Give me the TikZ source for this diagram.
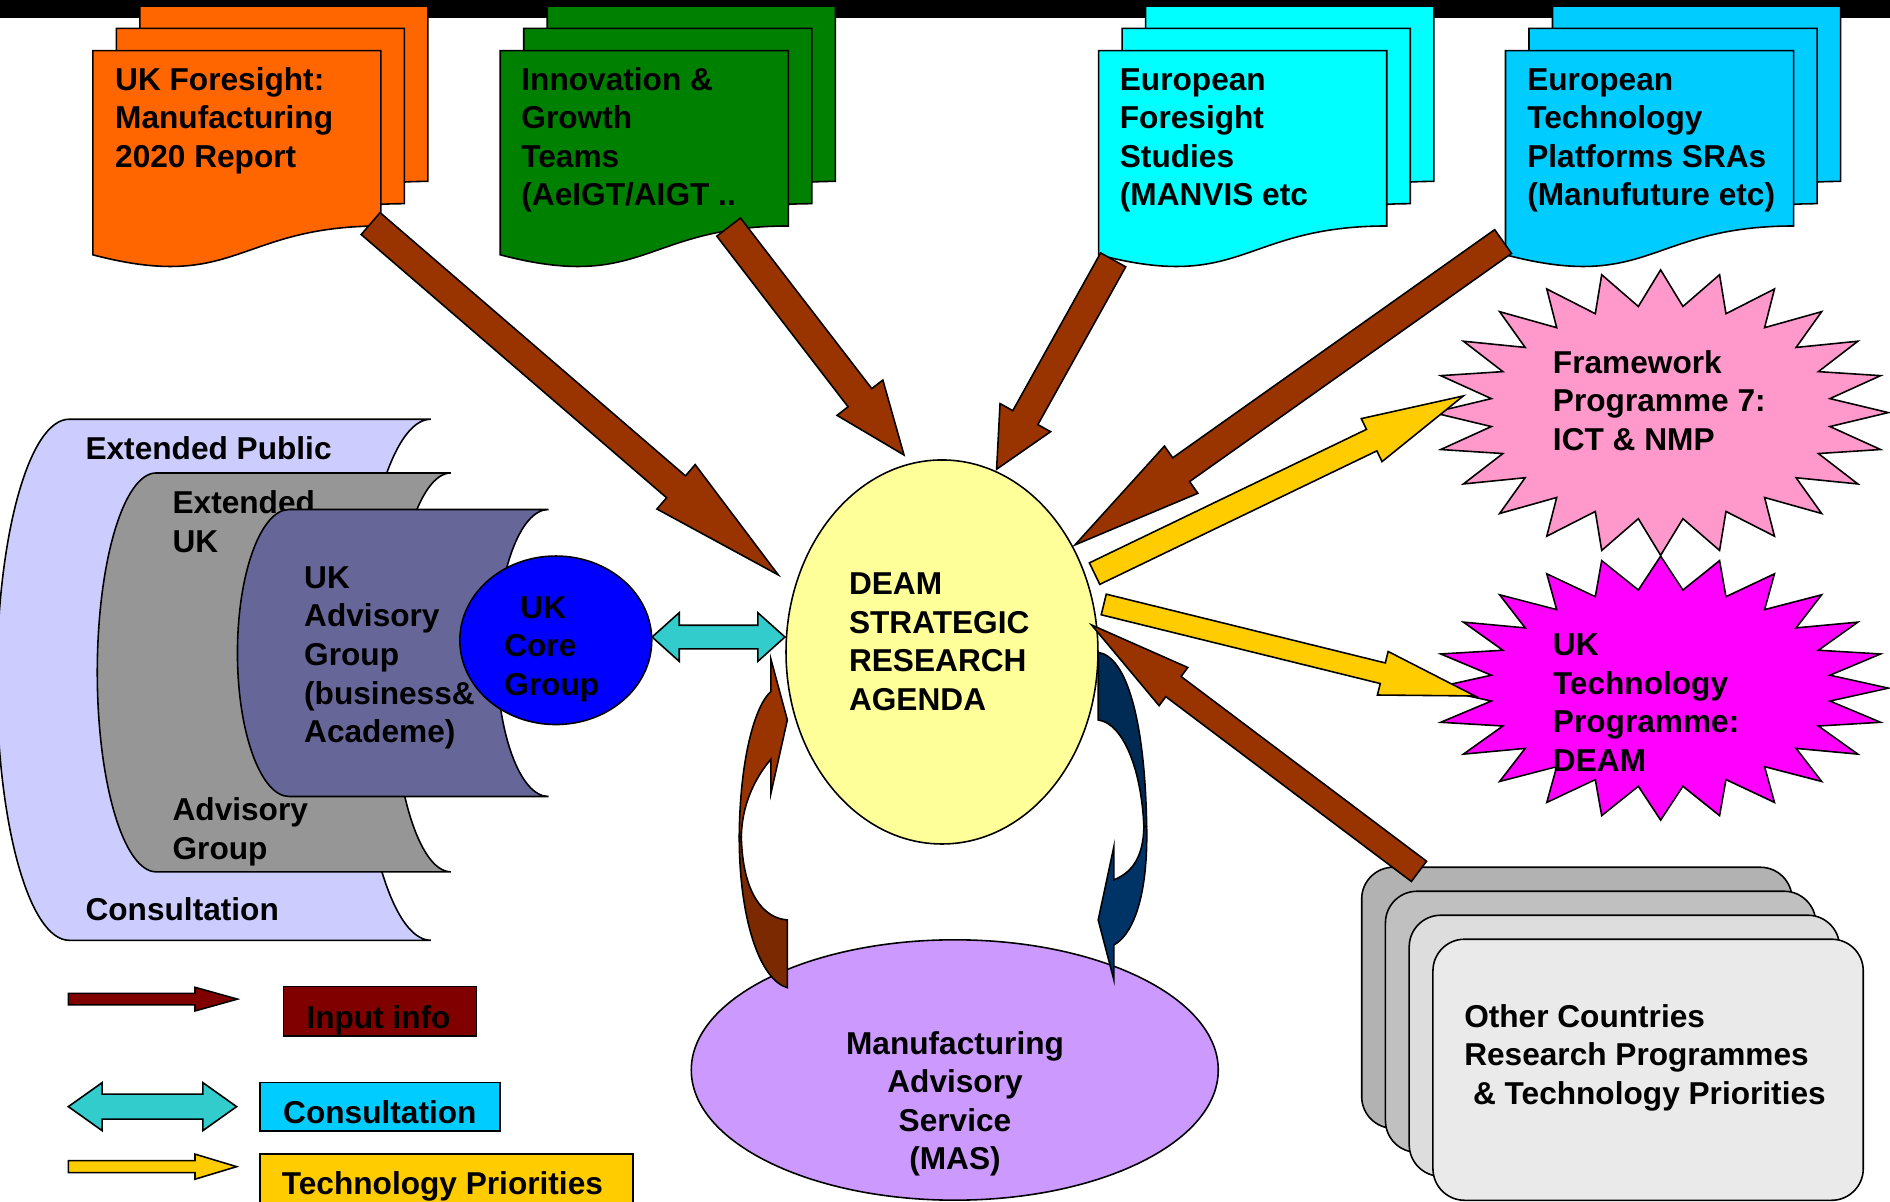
\documentclass[tikz,border=0pt]{standalone}
\usepackage{fontspec}
\setmainfont{Liberation Sans}
\usetikzlibrary{calc}
\definecolor{cOrange}{HTML}{FF6600}
\definecolor{cGreen}{HTML}{008000}
\definecolor{cCyan}{HTML}{00FFFF}
\definecolor{cSky}{HTML}{00CCFF}
\definecolor{cBrown}{HTML}{993300}
\definecolor{cBrownD}{HTML}{7A2900}
\definecolor{cNavy}{HTML}{003366}
\definecolor{cNavyD}{HTML}{002B55}
\definecolor{cLav}{HTML}{CCCCFF}
\definecolor{cGray}{HTML}{969696}
\definecolor{cSlate}{HTML}{666699}
\definecolor{cBlue}{HTML}{0000FF}
\definecolor{cPale}{HTML}{FFFF99}
\definecolor{cMauve}{HTML}{CC99FF}
\definecolor{cPink}{HTML}{FF99CC}
\definecolor{cMag}{HTML}{FF00FF}
\definecolor{cGold}{HTML}{FFCC00}
\definecolor{cTeal}{HTML}{33CCCC}
\definecolor{cMaroon}{HTML}{800000}
\definecolor{cGa}{HTML}{B2B2B2}
\definecolor{cGb}{HTML}{C0C0C0}
\definecolor{cGc}{HTML}{DDDDDD}
\definecolor{cGd}{HTML}{EAEAEA}
\tikzset{
  outline/.style={draw=black, line width=0.45pt, line join=miter},
  txt/.style={font=\bfseries\fontsize{9}{10.97}\selectfont, align=left, inner sep=0pt, anchor=base west},
  ctxt/.style={font=\bfseries\fontsize{9}{10.97}\selectfont, align=center, inner sep=0pt, anchor=base},
}
% document page (flowchart document shape), #1,#2 top-left, #3 fill
\newcommand{\docpage}[3]{%
  \begin{scope}[shift={(#1,#2)}]
    \draw[outline,fill=#3] (0,0) -- (239,0) -- (239,145.5)
      .. controls (119.5,145.5) and (119.5,200.9) .. (0,169.4) -- cycle;
  \end{scope}}
% stored-data shape: x0,y0,w,h,fill
\newcommand{\storeddata}[5]{%
  \pgfmathsetmacro\sdrx{#3/6}\pgfmathsetmacro\sdry{#4/2}%
  \draw[outline,fill=#5] ({#1+\sdrx},#2) -- ({#1+#3},#2)
    arc[start angle=-90, end angle=-270, x radius=\sdrx, y radius=\sdry]
    -- ({#1+\sdrx},{#2+#4})
    arc[start angle=90, end angle=270, x radius=\sdrx, y radius=\sdry] -- cycle;}
% block arrow: tail, tip, half shaft, half head, head length, fill
\newcommand{\blockarrow}[6]{%
  \pgfmathsetlengthmacro\bsw{#3*0.0120536cm}%
  \pgfmathsetlengthmacro\bhw{#4*0.0120536cm}%
  \pgfmathsetlengthmacro\bhl{#5*0.0120536cm}%
  \coordinate (bah) at ($(#2)!\bhl!(#1)$);%
  \draw[outline,fill=#6] ($(#1)!\bsw!90:(#2)$) -- ($(bah)!\bsw!90:(#2)$)
    -- ($(bah)!\bhw!90:(#2)$) -- (#2) -- ($(bah)!\bhw!-90:(#2)$)
    -- ($(bah)!\bsw!-90:(#2)$) -- ($(#1)!\bsw!-90:(#2)$) -- cycle;}
% double block arrow: end A, end B, half shaft, half head, head length, fill
\newcommand{\dblarrow}[6]{%
  \pgfmathsetlengthmacro\bsw{#3*0.0120536cm}%
  \pgfmathsetlengthmacro\bhw{#4*0.0120536cm}%
  \pgfmathsetlengthmacro\bhl{#5*0.0120536cm}%
  \coordinate (dah) at ($(#1)!\bhl!(#2)$);%
  \coordinate (dbh) at ($(#2)!\bhl!(#1)$);%
  \draw[outline,fill=#6] (#1) -- ($(dah)!\bhw!90:(#2)$) -- ($(dah)!\bsw!90:(#2)$)
    -- ($(dbh)!\bsw!-90:(#1)$) -- ($(dbh)!\bhw!-90:(#1)$) -- (#2)
    -- ($(dbh)!\bhw!90:(#1)$) -- ($(dbh)!\bsw!90:(#1)$)
    -- ($(dah)!\bsw!-90:(#2)$) -- ($(dah)!\bhw!-90:(#2)$) -- cycle;}
\begin{document}
\begin{tikzpicture}[x=0.0120536cm, y=-0.0120536cm]
\useasboundingbox (0,0) rectangle (1568,997.2);
\clip (0,0) rectangle (1568,997.2);
\fill[white] (0,0) rectangle (1568,997.2);
\fill[black] (0,0) rectangle (1568,15.2);

% ---- document stacks (text anchored at baseline of last line) ----
\docpage{116}{5}{cOrange}\docpage{96.5}{23.5}{cOrange}\docpage{77}{42}{cOrange}
\node[txt] (foresight) at (95,138.7) {UK Foresight:\\Manufacturing\\2020 Report};
\docpage{454}{5}{cGreen}\docpage{434.5}{23.5}{cGreen}\docpage{415}{42}{cGreen}
\node[txt] (innov) at (432,170.7) {Innovation \&\\Growth\\Teams\\(AeIGT/AIGT ..};
\docpage{950.5}{5}{cCyan}\docpage{931}{23.5}{cCyan}\docpage{911.5}{42}{cCyan}
\node[txt] (eufore) at (928.5,170.7) {European\\Foresight\\Studies\\(MANVIS etc};
\docpage{1288}{5}{cSky}\docpage{1268.5}{23.5}{cSky}\docpage{1249}{42}{cSky}
\node[txt] (eutech) at (1266.5,170.7) {European\\Technology\\Platforms SRAs\\(Manufuture etc)};

% ---- consultation shapes ----
\storeddata{-2.6}{347.8}{360}{432.3}{cLav}
\node[txt] (extpub) at (70.4,381.3) {Extended Public};
\node[txt] (consul) at (70.4,764) {Consultation};
\storeddata{80.7}{392.4}{293.4}{330.9}{cGray}
\node[txt] (extuk) at (142.6,458) {Extended\\UK};
\node[txt] (advgrp) at (142.6,713.1) {Advisory\\Group};
\storeddata{197}{422.7}{258}{238.1}{cSlate}
\node[txt] (ukadv) at (251.8,616.1) {UK\\Advisory\\Group\\(business\&\\Academe)};
\draw[outline,fill=cBlue] (461.1,531.2) ellipse [x radius=79.6, y radius=69.9];
\node[txt] (core) at (417.8,576.9) {\hspace*{4.6pt}UK\\Core\\Group};

% ---- stars ----
\draw[outline,fill=cPink] plot[variable=\k, samples at={0,...,47}]
  ({1377.7+188.9*(1-0.25*mod(\k,2))*cos(-90+7.5*\k)},
   {342.3+118.4*(1-0.25*mod(\k,2))*sin(-90+7.5*\k)}) -- cycle;
\node[txt] (fp7) at (1287.8,373.6) {Framework\\Programme 7:\\ICT \& NMP};
\draw[outline,fill=cMag] plot[variable=\k, samples at={0,...,47}]
  ({1377.7+188.9*(1-0.25*mod(\k,2))*cos(-90+7.5*\k)},
   {570.9+109.5*(1-0.25*mod(\k,2))*sin(-90+7.5*\k)}) -- cycle;
\node[txt] (uktp) at (1287.8,640) {UK\\Technology\\Programme:\\DEAM};

% ---- other countries stack ----
\foreach \i/\c in {0/cGa,1/cGb,2/cGc,3/cGd}{
  \draw[outline,fill=\c,rounded corners=9pt] ({1129.7+19.7*\i},{719.5+19.9*\i}) rectangle ++(357,216.6);
}
\node[txt] (other) at (1214.2,916.2) {Other Countries\\Research Programmes\\\hspace*{2.5pt}\& Technology Priorities};

% ---- central ellipses ----
\draw[outline,fill=cPale] (781.5,540.9) ellipse [x radius=129.4, y radius=159.3];
\node[txt] (sra) at (703.8,589.2) {DEAM\\STRATEGIC\\RESEARCH\\AGENDA};
\draw[outline,fill=cMauve] (792.1,887.7) ellipse [x radius=218.6, y radius=108];
\node[ctxt] (mas) at (792.3,970.4) {Manufacturing\\Advisory\\Service\\(MAS)};

% ---- connector end points ----
\coordinate (a1s) at (307.5,185.5);  \coordinate (a1e) at (645.7,477);
\coordinate (a2s) at (604.5,188.4);  \coordinate (a2e) at (750,377.5);
\coordinate (a3s) at (923.5,215.6);  \coordinate (a3e) at (826.8,389.3);
\coordinate (a4s) at (1247,200.4);   \coordinate (a4e) at (891.8,452.1);
\coordinate (a5s) at (1177.2,722.9); \coordinate (a5e) at (905.6,518.5);
\coordinate (y1s) at (908.1,475.9);  \coordinate (y1e) at (1214,328.5);
\coordinate (y2s) at (915.7,501.5);  \coordinate (y2e) at (1223.7,577.4);
\coordinate (c1s) at (541,528.5);    \coordinate (c1e) at (651.2,528.5);

\blockarrow{a1s}{a1e}{12}{24.3}{112}{cBrown}
\blockarrow{a2s}{a2e}{12.4}{24}{60}{cBrown}
\blockarrow{a3s}{a3e}{11.9}{24}{49}{cBrown}
\blockarrow{a4s}{a4e}{12.1}{24}{108}{cBrown}
\blockarrow{a5s}{a5e}{10.5}{19.8}{85}{cBrown}
\blockarrow{y1s}{y1e}{9.9}{19.8}{84.4}{cGold}
\blockarrow{y2s}{y2e}{8.8}{18.6}{78.8}{cGold}
\dblarrow{c1s}{c1e}{9.8}{20.2}{22.5}{cTeal}

% ---- curved arrows between MAS and agenda ----
\draw[outline,fill=cBrown] (639.6,547.0) -- (653.2,597.3) -- (639.6,658.1) -- (639.6,629.9)
  .. controls (624.9,647.1) and (615.5,669.2) .. (615.0,694.1) -- (613.3,694.1)
  .. controls (613.9,625) and (627.7,583.5) .. (639.6,573.8) -- cycle;
\draw[outline,fill=cBrownD] (613.3,694.1) .. controls (613.3,763.2) and (630.5,813) .. (653.2,819.4)
  -- (653.2,763.2) .. controls (633.2,761.8) and (616.1,741.1) .. (615.0,694.1) -- cycle;
\draw[outline,fill=cNavyD] (911.1,541.2) .. controls (934.7,544.8) and (949.9,597.3) .. (951.3,685.8)
  -- (949.0,685.8) .. controls (947.1,638.8) and (931.9,600.1) .. (911.1,597.3) -- cycle;
\draw[outline,fill=cNavy] (951.3,685.8) .. controls (952.6,749.4) and (937.4,777.1) .. (924.1,783.9)
  -- (924.1,813.0) -- (911.1,763.2) -- (924.1,702.4) -- (924.1,730.0)
  .. controls (937.4,724.5) and (948.5,713.5) .. (949.0,685.8) -- cycle;

% ---- legend ----
\coordinate (l1s) at (56.7,828.9); \coordinate (l1e) at (197,828.9);
\coordinate (l2s) at (56.7,918.1); \coordinate (l2e) at (196.3,918.1);
\coordinate (l3s) at (56.7,967.9); \coordinate (l3e) at (196.3,967.9);
\blockarrow{l1s}{l1e}{4.8}{9.8}{35.2}{cMaroon}
\dblarrow{l2s}{l2e}{10.35}{19.9}{28}{cTeal}
\blockarrow{l3s}{l3e}{5}{10.4}{34.5}{cGold}
\draw[outline,fill=cMaroon] (235.2,818.5) rectangle (395.2,859.4);
\node[txt] (leg1) at (253.7,853.1) {Input info};
\draw[outline,fill=cSky] (215.9,898.2) rectangle (414.8,938.3);
\node[txt] (leg2) at (234.4,932.5) {Consultation};
\draw[outline,fill=cGold] (215.9,957.6) rectangle (525.2,1005);
\node[txt] (leg3) at (233.3,991.4) {Technology Priorities};
\end{tikzpicture}
\end{document}
